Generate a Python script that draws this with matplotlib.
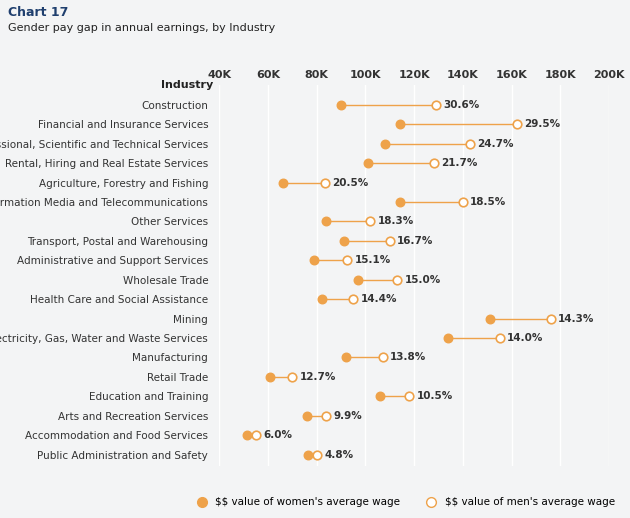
import matplotlib.pyplot as plt
from matplotlib.lines import Line2D

industries = ['Construction', 'Financial and Insurance Services',
              'Professional, Scientific and Technical Services',
              'Rental, Hiring and Real Estate Services',
              'Agriculture, Forestry and Fishing',
              'Information Media and Telecommunications', 'Other Services',
              'Transport, Postal and Warehousing',
              'Administrative and Support Services', 'Wholesale Trade',
              'Health Care and Social Assistance', 'Mining',
              'Electricity, Gas, Water and Waste Services', 'Manufacturing',
              'Retail Trade', 'Education and Training',
              'Arts and Recreation Services',
              'Accommodation and Food Services',
              'Public Administration and Safety']
women = [90, 114, 108, 101, 66, 114, 84, 91, 79, 97, 82, 151, 134, 92, 61, 106, 76, 51.5, 76.5]
men = [129, 162, 143, 128, 83.5, 140, 102, 110, 92.5, 113, 95, 176, 155, 107, 70, 118, 84, 55, 80]
gap_labels = ['30.6%', '29.5%', '24.7%', '21.7%', '20.5%', '18.5%', '18.3%', '16.7%',
              '15.1%', '15.0%', '14.4%', '14.3%', '14.0%', '13.8%', '12.7%', '10.5%',
              '9.9%', '6.0%', '4.8%']
ticks = [40, 60, 80, 100, 120, 140, 160, 180, 200]

bg = '#f3f4f5'
orange = '#eea24a'
navy = '#1f3f6e'

fig = plt.figure(figsize=(6.3, 5.18), dpi=100, facecolor=bg)
ax = fig.add_axes([0.348, 0.10, 0.619, 0.735], facecolor=bg)

ys = list(range(len(industries)))
for y, w, m, g in zip(ys, women, men, gap_labels):
    ax.plot([w, m], [y, y], color=orange, lw=1, zorder=1)
    ax.scatter(w, y, s=38, color=orange, zorder=3)
    ax.scatter(m, y, s=38, facecolor='white', edgecolor=orange, lw=1.2, zorder=3)
    ax.text(m + 3, y, g, va='center', ha='left', fontsize=7.5, fontweight='bold', color='#333333')

ax.set_xlim(40, 200)
ax.set_ylim(len(industries) - 0.4, -1.0)
ax.set_xticks(ticks)
ax.set_xticklabels([f'{t}K' for t in ticks], fontsize=8, fontweight='bold', color='#333333')
ax.xaxis.tick_top()
ax.tick_params(axis='x', length=0, pad=4)
ax.set_yticks(ys)
ax.set_yticklabels(industries, fontsize=7.5, color='#333333')
ax.tick_params(axis='y', length=0, pad=8)
ax.grid(axis='x', color='white', lw=1)
ax.set_axisbelow(True)
for s in ax.spines.values():
    s.set_visible(False)
ax.text(-0.016, 1.0, 'Industry', transform=ax.transAxes, ha='right', va='center',
        fontsize=8, fontweight='bold', color='#222222')

fig.text(0.013, 0.975, 'Chart 17', fontsize=9, fontweight='bold', color=navy, va='center')
fig.text(0.013, 0.945, 'Gender pay gap in annual earnings, by Industry', fontsize=8,
         color='#222222', va='center')

handles = [Line2D([], [], marker='o', ls='', color=orange, markersize=7),
           Line2D([], [], marker='o', ls='', markerfacecolor='white',
                  markeredgecolor=orange, markersize=7)]
fig.legend(handles, [r"\$\$ value of women's average wage", r"\$\$ value of men's average wage"],
           loc='center', bbox_to_anchor=(0.64, 0.03), ncol=2, frameon=False,
           fontsize=7.5, handletextpad=0.3, columnspacing=2)

fig.savefig('out.png', dpi=100, facecolor=bg)
